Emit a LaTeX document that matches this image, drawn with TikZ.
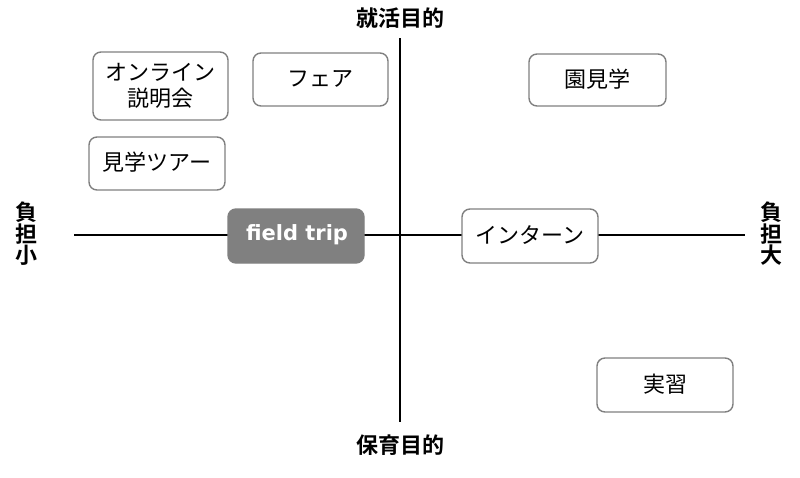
\documentclass[tikz,border=0pt]{standalone}
\usepackage{fontspec}
\setmainfont{Noto Sans CJK JP}
\newfontfamily\jpbold{Noto Sans CJK JP Bold}
\newfontfamily\latbold{DejaVu Sans Bold}
\definecolor{boxgray}{HTML}{808080}
\begin{document}
\begin{tikzpicture}[x=1pt,y=-1pt,
  item/.style={draw=boxgray,line width=1.4pt,rounded corners=8pt,fill=white},
  itemtext/.style={font=\fontsize{22}{24}\selectfont,align=center},
  axislabel/.style={font=\jpbold\fontsize{22}{22}\selectfont,align=center},
  axis/.style={line width=1.3pt,black}]
\useasboundingbox (0,0) rectangle (800,477);
% axes
\coordinate (L) at (74,235);
\coordinate (R) at (745,235);
\coordinate (T) at (400,38);
\coordinate (B) at (400,422);
\draw[axis] (L) -- (R);
\draw[axis] (T) -- (B);
% axis labels
\node[axislabel] (top) at (400,18) {就活目的};
\node[axislabel] (bot) at (400,445) {保育目的};
\node[axislabel,font=\jpbold\fontsize{22}{21.5}\selectfont] (left) at (27,234) {負\\担\\小};
\node[axislabel,font=\jpbold\fontsize{22}{21.5}\selectfont] (right) at (771,234) {負\\担\\大};
% boxes
\draw[item] (93,52) rectangle (228,120);
\node[itemtext,font=\fontsize{22}{26}\selectfont] (online) at (160.5,86) {オンライン\\説明会};
\draw[item] (253,53) rectangle (388,106);
\node[itemtext] (fair) at (320.5,78.5) {フェア};
\draw[item] (89,137) rectangle (225,190);
\node[itemtext] (tour) at (157,162.5) {見学ツアー};
\draw[item] (529,54) rectangle (666,106);
\node[itemtext] (visit) at (597.5,79) {園見学};
\draw[item,fill=boxgray] (228,209) rectangle (364,263);
\node[font=\latbold\fontsize{21}{22}\selectfont,text=white] (ft) at (297,235) {field trip};
\draw[item] (462,209) rectangle (598,263);
\node[itemtext] (intern) at (530,235) {インターン};
\draw[item] (597,358) rectangle (733,412);
\node[itemtext] (prac) at (665,384) {実習};
\end{tikzpicture}
\end{document}
